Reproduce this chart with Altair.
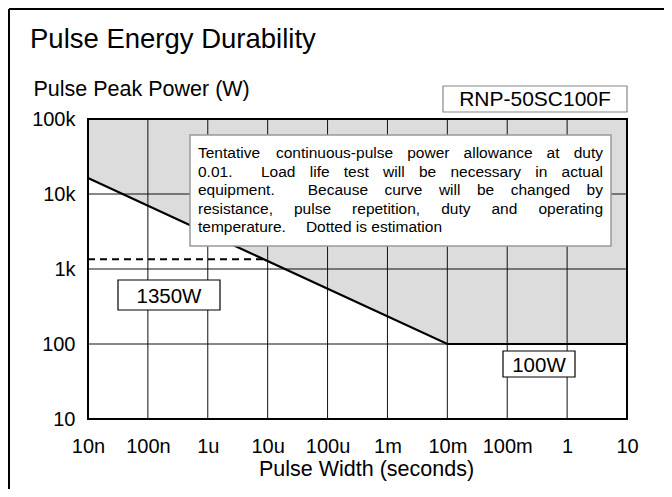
import math
import altair as alt
import pandas as pd

# ---------------- data ----------------
x_ticks = [1e-8, 1e-7, 1e-6, 1e-5, 1e-4, 1e-3, 1e-2, 1e-1, 1, 10]
x_labels = ["10n", "100n", "1u", "10u", "100u", "1m", "10m", "100m", "1", "10"]
y_ticks = [10, 100, 1000, 10000, 100000]
y_labels = ["10", "100", "1k", "10k", "100k"]

curve_w = [1e-8, 1e-2, 10]          # pulse width (s)
curve_p = [16300, 100, 100]         # allowed peak power (W)
est_w = [1e-8, 8.9e-6]              # dotted estimation
est_p = [1350, 1350]

note_lines = [
    "Tentative continuous-pulse power allowance at duty",
    "0.01.  Load life test will be necessary in actual",
    "equipment.  Because curve will be changed by",
    "resistance, pulse repetition, duty and operating",
]
note_last = ["temperature.", "Dotted is estimation"]

# ---------------- layout ----------------
W, H = 539, 300
FONT = "Liberation Sans"
ONE = pd.DataFrame({"k": [0]})

curve_df = pd.DataFrame({"w": curve_w, "p": curve_p})
est_df = pd.DataFrame({"w": est_w, "p": est_p})
xgrid_df = pd.DataFrame({"w": x_ticks})
ygrid_df = pd.DataFrame({"p": y_ticks})

x_off = -round(math.log10(x_ticks[0]))
y_off = -round(math.log10(y_ticks[0]))
x_expr = "[" + ",".join(f"'{s}'" for s in x_labels) + f"][round(log(datum.value)/LN10)+{x_off}]"
y_expr = "[" + ",".join(f"'{s}'" for s in y_labels) + f"][round(log(datum.value)/LN10)+{y_off}]"

xs = alt.Scale(type="log", domain=[x_ticks[0], x_ticks[-1]], nice=False)
ys = alt.Scale(type="log", domain=[y_ticks[0], y_ticks[-1]], nice=False)

xax = alt.Axis(values=x_ticks, labelExpr=x_expr, grid=False, domain=False, ticks=False,
               tickSize=0, labelPadding=33, labelBaseline="alphabetic", labelFontSize=20,
               labelFont=FONT, labelColor="black", labelFlush=False, labelOverlap=False,
               title="Pulse Width (seconds)", titleFont=FONT, titleFontSize=21.5,
               titleFontWeight="normal", titleColor="black", titleX=278, titleY=56,
               titleAlign="center", titleBaseline="alphabetic")
yax = alt.Axis(values=y_ticks, labelExpr=y_expr, grid=False, domain=False, ticks=False,
               tickSize=0, labelPadding=13, labelBaseline="middle", labelFontSize=20,
               labelFont=FONT, labelColor="black", labelFlush=False, labelOverlap=False,
               title="Pulse Peak Power (W)", titleFont=FONT, titleFontSize=21.5,
               titleFontWeight="normal", titleColor="black", titleAngle=0,
               titleX=-55, titleY=-24, titleAlign="left", titleBaseline="alphabetic")

xenc = alt.X("w:Q", scale=xs, axis=xax)
yenc = alt.Y("p:Q", scale=ys, axis=yax)

area = alt.Chart(curve_df).mark_area(color="#dcdcdc").encode(
    x=xenc, y=yenc, y2=alt.datum(y_ticks[-1]))
xgrid = alt.Chart(xgrid_df).mark_rule(color="#111", strokeWidth=1).encode(x=xenc)
ygrid = alt.Chart(ygrid_df).mark_rule(color="#111", strokeWidth=1).encode(y=yenc)
curve = alt.Chart(curve_df).mark_line(color="black", strokeWidth=2.2).encode(x=xenc, y=yenc)
est = alt.Chart(est_df).mark_line(color="black", strokeWidth=2, strokeDash=[7, 5]).encode(x=xenc, y=yenc)
frame = alt.Chart(ONE).mark_rect(fillOpacity=0, stroke="black", strokeWidth=2).encode(
    x=alt.value(0), x2=alt.value(W), y=alt.value(0), y2=alt.value(H))


def box(x1, y1, x2, y2, stroke="black", sw=1.2):
    return alt.Chart(ONE).mark_rect(fill="white", stroke=stroke, strokeWidth=sw).encode(
        x=alt.value(x1), x2=alt.value(x2), y=alt.value(y1), y2=alt.value(y2))


def label(txt, x, y, size, align="left", baseline="alphabetic"):
    return alt.Chart(ONE).mark_text(text=txt, font=FONT, fontSize=size, align=align,
                                    baseline=baseline, color="black").encode(
        x=alt.value(x), y=alt.value(y))


# Arial / Liberation Sans advance widths (per 1000 em)
AW = {" ": 278, ",": 278, "-": 333, ".": 278, "A": 667, "B": 667, "C": 722, "D": 722,
      "E": 667, "L": 556, "T": 611, "a": 556, "b": 556, "c": 500, "d": 556, "e": 556,
      "f": 278, "g": 556, "h": 556, "i": 222, "j": 222, "k": 500, "l": 222, "m": 833,
      "n": 556, "o": 556, "p": 556, "q": 556, "r": 333, "s": 500, "t": 278, "u": 556,
      "v": 500, "w": 722, "x": 500, "y": 500, "z": 500}
for d in "0123456789":
    AW[d] = 556


def tw(s, size):
    return sum(AW.get(c, 556) for c in s) * size / 1000.0


NOTE_SIZE = 15.5
NX0, NX1 = 110, 515
NY = [39, 57.5, 76, 94.5, 113]

layers = [area, xgrid, ygrid, curve, est, frame]

# outer border
layers.append(alt.Chart(ONE).mark_rule(color="black", strokeWidth=2).encode(
    x=alt.value(-79), x2=alt.value(576), y=alt.value(-110)))
layers.append(alt.Chart(ONE).mark_rule(color="black", strokeWidth=2).encode(
    x=alt.value(-79), y=alt.value(-110), y2=alt.value(372)))

# title
layers.append(label("Pulse Energy Durability", -58, -71, 27.5))

# part number
layers.append(box(355, -33, 539, -7, stroke="#888", sw=1.2))
layers.append(label("RNP-50SC100F", 447, -13, 21, align="center"))

# note box with justified text
layers.append(box(102, 16, 523, 127, stroke="#999", sw=1.5))
for li, line in enumerate(note_lines):
    toks = line.split(" ")
    widths = [tw(t, NOTE_SIZE) for t in toks]
    gap = (NX1 - NX0 - sum(widths)) / (len(toks) - 1)
    x = NX0
    for t, wdt in zip(toks, widths):
        if t:
            layers.append(label(t, round(x, 1), NY[li], NOTE_SIZE))
        x += wdt + gap
x = NX0
layers.append(label(note_last[0], x, NY[4], NOTE_SIZE))
x += tw(note_last[0], NOTE_SIZE) + 20
layers.append(label(note_last[1], round(x, 1), NY[4], NOTE_SIZE))

# value boxes
layers.append(box(30, 161, 132, 191))
layers.append(label("1350W", 81, 183.5, 20.5, align="center"))
layers.append(box(415, 232, 487, 258))
layers.append(label("100W", 451, 252.5, 20.5, align="center"))

chart = alt.layer(*layers).properties(
    width=W, height=H,
    autosize=alt.AutoSizeParams(type="none"),
    padding={"left": 80, "top": 111, "right": 37, "bottom": 70},
    background="white",
).configure_view(strokeWidth=0)

chart.save("out.html", embed_options={"renderer": "svg", "actions": False})
